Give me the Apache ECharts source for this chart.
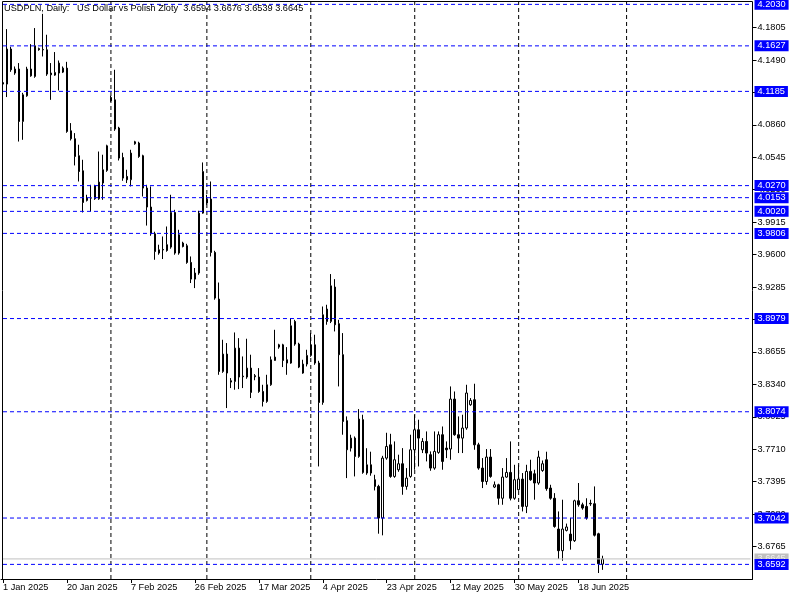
<!DOCTYPE html>
<html><head><meta charset="utf-8">
<script src="https://cdn.jsdelivr.net/npm/echarts@6/dist/echarts.min.js"></script>
<style>html,body{margin:0;padding:0;background:#fff}#chart{width:800px;height:600px}</style>
</head><body><div id="chart"></div>
<script>
const openPrices = [
4.1270,4.1256,4.1596,4.1363,4.1402,4.0893,4.1142,4.1402,4.1330,4.1600,
4.1588,4.1589,4.1363,4.1343,4.1363,4.1372,4.1411,4.0802,4.0725,4.0560,
4.0414,4.0126,4.0149,4.0142,4.0142,4.0295,4.0417,4.1126,4.1103,4.0829,
4.0543,4.0359,4.0327,4.0676,4.0683,4.0560,4.0246,4.0062,3.9802,3.9615,
3.9650,3.9696,3.9673,4.0009,3.9615,3.9712,3.9686,3.9524,3.9362,3.9421,
4.0003,4.0100,4.0139,3.9621,3.9168,3.8465,3.8634,3.8375,3.8368,3.8692,
3.8420,3.8411,3.8498,3.8424,3.8411,3.8271,3.8174,3.8336,3.8572,3.8724,
3.8724,3.8579,3.8547,3.8951,3.8731,3.8450,3.8537,3.8621,3.8724,3.8547,
3.8164,3.9071,3.8951,3.9285,3.8929,3.8628,3.7987,3.7721,3.7818,3.7640,
3.7997,3.7479,3.7559,3.7414,3.7349,3.7042,3.7624,3.7753,3.7446,3.7511,
3.7569,3.7349,3.7446,3.7705,3.7899,3.7705,3.7786,3.7657,3.7527,3.7679,
3.7851,3.7721,3.7712,3.8197,3.7851,3.7818,3.7916,3.8142,3.8191,3.7753,
3.7527,3.7397,3.7634,3.7343,3.7365,3.7234,3.7440,3.7485,3.7234,3.7317,
3.7420,3.7155,3.7495,3.7472,3.7382,3.7504,3.7608,3.7333,3.7234,3.6935,
3.6725,3.6922,3.6886,3.6822,3.7210,3.7171,3.7155,3.7185,3.7181,3.6889,
3.6594];
const highPrices = [
4.1300,4.1790,4.1618,4.1427,4.1460,4.1171,4.1424,4.1644,4.1800,4.1610,
4.1938,4.1735,4.1460,4.1567,4.1485,4.1427,4.1472,4.0877,4.0780,4.0667,
4.0521,4.0181,4.0278,4.0278,4.0601,4.0570,4.0667,4.1142,4.1395,4.0841,
4.0589,4.0424,4.0618,4.0705,4.0696,4.0570,4.0278,4.0262,3.9822,3.9696,
3.9776,3.9873,4.0181,4.0035,3.9841,3.9725,3.9705,3.9582,3.9470,4.0026,
4.0495,4.0181,4.0310,3.9637,3.9329,3.8773,3.8741,3.8401,3.8844,3.8789,
3.8611,3.8783,3.8628,3.8440,3.8498,3.8336,3.8433,3.8611,3.8870,3.8734,
3.8734,3.8702,3.8984,3.8967,3.8744,3.8579,3.8676,3.8838,3.8822,3.8569,
3.9096,3.9113,3.9411,3.9362,3.8967,3.8838,3.8029,3.7851,3.7834,3.8100,
3.8045,3.7720,3.7686,3.7462,3.7365,3.7646,3.7870,3.7860,3.7786,3.7657,
3.7721,3.7527,3.7851,3.8045,3.7997,3.7818,3.7883,3.7689,3.7883,3.7883,
3.7931,3.7786,3.8320,3.8271,3.8029,3.8045,3.8336,3.8207,3.8346,3.7773,
3.7624,3.7712,3.7712,3.7397,3.7375,3.7527,3.7624,3.7786,3.7559,3.7559,
3.7479,3.7559,3.7608,3.7511,3.7695,3.7601,3.7686,3.7365,3.7284,3.7106,
3.7220,3.6988,3.7044,3.7220,3.7382,3.7191,3.7234,3.7220,3.7349,3.6899,
3.6676];
const lowPrices = [
4.1230,4.1130,4.1375,4.1346,4.0698,4.0715,4.1133,4.1327,4.1317,4.1580,
4.1524,4.1336,4.1103,4.1336,4.1194,4.1363,4.0783,4.0708,4.0466,4.0310,
4.0009,4.0116,4.0019,4.0132,4.0132,4.0132,4.0404,4.1084,4.0802,4.0514,
4.0317,4.0295,4.0262,4.0667,4.0540,4.0164,3.9882,3.9783,3.9550,3.9599,
3.9557,3.9628,3.9657,3.9599,3.9599,3.9670,3.9511,3.9324,3.9275,3.9404,
3.9997,4.0084,3.9582,3.9162,3.8433,3.8452,3.8110,3.8304,3.8288,3.8294,
3.8304,3.8394,3.8207,3.8380,3.8258,3.8125,3.8161,3.8326,3.8569,3.8686,
3.8508,3.8433,3.8540,3.8715,3.8498,3.8443,3.8514,3.8608,3.8530,3.7543,
3.8142,3.8919,3.8935,3.8854,3.8320,3.7851,3.7430,3.7688,3.7446,3.7627,
3.7472,3.7462,3.7453,3.7310,3.6890,3.6874,3.7608,3.7433,3.7433,3.7491,
3.7268,3.7317,3.7433,3.7511,3.7543,3.7673,3.7592,3.7501,3.7511,3.7666,
3.7511,3.7624,3.7608,3.7841,3.7673,3.7673,3.7899,3.8132,3.7705,3.7511,
3.7333,3.7365,3.7433,3.7333,3.7171,3.7171,3.7433,3.7213,3.7220,3.7307,
3.7106,3.7090,3.7404,3.7220,3.7365,3.7491,3.7307,3.7220,3.6948,3.6644,
3.6627,3.6912,3.6735,3.6810,3.7152,3.7123,3.7026,3.7160,3.6863,3.6508,
3.6539];
const closePrices = [
4.1256,4.1596,4.1395,4.1402,4.0893,4.1152,4.1402,4.1336,4.1628,4.1590,
4.1592,4.1353,4.1346,4.1369,4.1460,4.1411,4.0796,4.0725,4.0553,4.0407,
4.0106,4.0149,4.0151,4.0268,4.0304,4.0424,4.0657,4.1094,4.0819,4.0537,
4.0343,4.0327,4.0586,4.0696,4.0553,4.0246,4.0062,3.9802,3.9630,3.9647,
3.9645,3.9640,4.0009,3.9615,3.9793,3.9679,3.9524,3.9362,3.9421,4.0003,
4.0407,4.0139,3.9621,3.9178,3.8465,3.8634,3.8450,3.8362,3.8692,3.8411,
3.8414,3.8498,3.8262,3.8414,3.8271,3.8174,3.8336,3.8579,3.8605,3.8702,
3.8572,3.8547,3.8909,3.8731,3.8508,3.8537,3.8621,3.8724,3.8547,3.8164,
3.9016,3.8951,3.9297,3.8919,3.8628,3.7980,3.7705,3.7818,3.7640,3.8003,
3.7485,3.7559,3.7479,3.7349,3.7042,3.7624,3.7737,3.7446,3.7608,3.7569,
3.7349,3.7430,3.7705,3.7899,3.7818,3.7786,3.7673,3.7527,3.7689,3.7851,
3.7592,3.7705,3.8197,3.7851,3.7818,3.7916,3.8256,3.8184,3.7753,3.7527,
3.7397,3.7634,3.7446,3.7365,3.7234,3.7440,3.7485,3.7234,3.7414,3.7420,
3.7155,3.7495,3.7414,3.7382,3.7634,3.7569,3.7327,3.7234,3.6960,3.6725,
3.6935,3.6955,3.6822,3.7210,3.7171,3.7139,3.7042,3.7180,3.6875,3.6598,
3.6645];

const xTickLabels = ['1 Jan 2025','20 Jan 2025','7 Feb 2025','26 Feb 2025','17 Mar 2025','4 Apr 2025','23 Apr 2025','12 May 2025','30 May 2025','18 Jun 2025'];
const xTickStep = 16;
const totalSlots = 188;
const levelLines = [4.2030,4.1627,4.1185,4.0270,4.0153,4.0020,3.9806,3.8979,3.8074,3.7042,3.6592];
const bidPrice = 3.6645;
const monthStartBars = [27,51,77,103,129,156];
const titleText = 'USDPLN, Daily:   US Dollar vs Polish Zloty  3.6594 3.6676 3.6539 3.6645';

const categories = [];
for (let i = 0; i < totalSlots; i++) categories.push(String(i));
const candleData = openPrices.map((o, i) => [o, closePrices[i], lowPrices[i], highPrices[i]]);

const FONT = '"Liberation Sans", Arial, sans-serif';
const FS = 9.2;
const Y_MIN = 3.6450, Y_MAX = 4.2053;
const LAST = totalSlots - 1;
const tickFn = (i) => i % xTickStep === 0 && i / xTickStep < xTickLabels.length;

function levelSeries(v, color, dash, labelBg, labelColor, z) {
  return {
    type: 'line', data: [[0, v], [LAST, v]], symbol: 'none', silent: true, animation: false, z: z,
    lineStyle: {color: color, type: dash, width: 1},
    endLabel: {show: true, distance: 4, formatter: () => v.toFixed(4), backgroundColor: labelBg,
      color: labelColor, padding: [0, 3], lineHeight: 11, fontSize: FS, fontFamily: FONT}
  };
}
const series = [];
monthStartBars.forEach(b => series.push({
  type: 'line', data: [[b, Y_MIN], [b, Y_MAX]], symbol: 'none', silent: true, animation: false, z: 1,
  lineStyle: {color: '#000000', type: [4, 3], width: 1}
}));
series.push({
  type: 'candlestick', data: candleData, barWidth: 2, z: 3,
  itemStyle: {color: '#ffffff', color0: '#000000', borderColor: '#000000', borderColor0: '#000000',
    borderColorDoji: '#000000', borderWidth: 1}
});
series.push(levelSeries(bidPrice, '#c0c0c0', 'solid', '#c0c0c0', '#eeeeee', 4));
levelLines.forEach(v => series.push(levelSeries(v, '#0000ff', [4, 3], '#0000ff', '#ffffff', 5)));

const chart = echarts.init(document.getElementById('chart'), null, {renderer: 'canvas'});
chart.setOption({
  animation: false,
  backgroundColor: '#ffffff',
  title: {text: titleText, left: 4, top: 4, padding: 0,
    textStyle: {fontSize: FS, fontWeight: 'normal', color: '#000', fontFamily: FONT}},
  grid: {left: 0.5, right: 47.5, top: 2, bottom: 21},
  xAxis: {
    type: 'category', data: categories, boundaryGap: true,
    axisLine: {lineStyle: {color: '#000', width: 1}},
    axisTick: {show: true, interval: tickFn, length: 4, alignWithLabel: true, lineStyle: {color: '#000'}},
    axisLabel: {interval: tickFn, formatter: (v, i) => xTickLabels[i / xTickStep] || '', align: 'left',
      margin: 4, fontSize: FS, color: '#000', fontFamily: FONT},
    splitLine: {show: false}, splitArea: {show: false}
  },
  yAxis: {
    type: 'value', position: 'right', min: Y_MIN, max: Y_MAX, interval: 0.0315,
    axisLine: {show: true, lineStyle: {color: '#000', width: 1}},
    axisTick: {show: true, length: 4, lineStyle: {color: '#000'}},
    axisLabel: {margin: 5, fontSize: FS, color: '#000', fontFamily: FONT,
      formatter: v => v.toFixed(4), showMinLabel: false, showMaxLabel: false},
    splitLine: {show: false}, splitArea: {show: false}
  },
  graphic: [{type: 'polyline', silent: true, z: 100,
    shape: {points: [[2.5, 579.5], [2.5, 1.5], [752.5, 1.5]]},
    style: {fill: null, stroke: '#000', lineWidth: 1}}],
  series: series
});
</script></body></html>
